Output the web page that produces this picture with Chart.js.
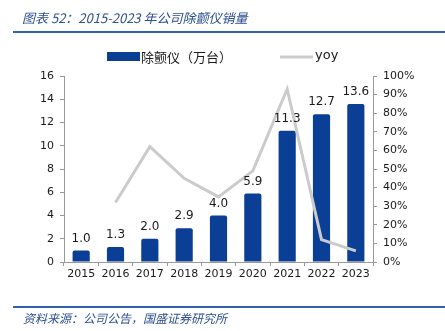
<!DOCTYPE html>
<html>
<head>
<meta charset="utf-8">
<script src="https://cdn.jsdelivr.net/npm/chart.js@4"></script>
<style>
  body { margin: 0; background: #fff; }
  .wrap { position: relative; width: 445px; height: 331px; }
  #chart { position: absolute; left: 0; top: 0; }
  .title {
    position: absolute; left: 22px; top: 8px;
    font: italic 13px "Noto Sans CJK SC", "DejaVu Sans", sans-serif;
    color: #2d4f93; white-space: nowrap;
  }
  .rule { position: absolute; left: 13px; width: 432px; height: 2px; background: #2f63ad; }
  .source {
    position: absolute; left: 23px; top: 309px;
    font: italic 12px "Noto Sans CJK SC", sans-serif;
    color: #2d4f93; white-space: nowrap;
  }
</style>
</head>
<body>
<div class="wrap">
  <canvas id="chart" width="445" height="331"></canvas>
  <div class="title">图表 52：2015-2023 年公司除颤仪销量</div>
  <div class="rule" style="top:31px"></div>
  <div class="rule" style="top:306px"></div>
  <div class="source">资料来源：公司公告，国盛证券研究所</div>
</div>
<script>
const years = ["2015", "2016", "2017", "2018", "2019", "2020", "2021", "2022", "2023"];
const sales = [1.0, 1.3, 2.0, 2.9, 4.0, 5.9, 11.3, 12.7, 13.6];
const yoy = [null, 0.32, 0.62, 0.45, 0.35, 0.49, 0.93, 0.12, 0.06];
const salesLabel = "除颤仪（万台）";
const yoyLabel = "yoy";

const tickFont = { family: "DejaVu Sans", size: 11 };
const barColor = "#0a3f95";
const lineColor = "#cbcbcb";

// value labels above the bars (bar dataset is index 1)
const barLabels = {
  id: "barLabels",
  afterDatasetsDraw(chart) {
    const ctx = chart.ctx;
    const meta = chart.getDatasetMeta(1);
    ctx.save();
    ctx.font = "12px DejaVu Sans";
    ctx.fillStyle = "#1a1a1a";
    ctx.textAlign = "center";
    ctx.textBaseline = "bottom";
    meta.data.forEach(function (bar, i) {
      ctx.fillText(sales[i].toFixed(1), bar.x, bar.y - 6);
    });
    ctx.restore();
  }
};

// legend drawn by hand so the spacing matches
const legendDraw = {
  id: "legendDraw",
  afterDraw(chart) {
    const ctx = chart.ctx;
    ctx.save();
    ctx.fillStyle = barColor;
    ctx.fillRect(107, 52, 33, 9);
    ctx.strokeStyle = lineColor;
    ctx.lineWidth = 3;
    ctx.beginPath();
    ctx.moveTo(280, 57);
    ctx.lineTo(313, 57);
    ctx.stroke();
    ctx.fillStyle = "#1a1a1a";
    ctx.textBaseline = "middle";
    ctx.font = "13px 'Noto Sans CJK SC'";
    ctx.fillText(salesLabel, 141, 57);
    ctx.font = "13px DejaVu Sans";
    ctx.fillText(yoyLabel, 315, 56);
    ctx.restore();
  }
};

new Chart(document.getElementById("chart"), {
  data: {
    labels: years,
    datasets: [
      {
        type: "line",
        label: yoyLabel,
        data: yoy,
        yAxisID: "y1",
        borderColor: lineColor,
        borderWidth: 3,
        pointRadius: 0,
        tension: 0,
        order: 0
      },
      {
        type: "bar",
        label: salesLabel,
        data: sales,
        yAxisID: "y",
        backgroundColor: barColor,
        borderRadius: 2,
        borderSkipped: "bottom",
        categoryPercentage: 1,
        barPercentage: 0.5,
        order: 1
      }
    ]
  },
  options: {
    responsive: false,
    animation: false,
    layout: { padding: { top: 76, bottom: 39, left: 0, right: 0 } },
    plugins: { legend: { display: false }, tooltip: { enabled: false } },
    scales: {
      x: {
        offset: true,
        grid: { offset: true, drawOnChartArea: false, tickLength: 4, color: "#999" },
        border: { color: "#999" },
        ticks: { font: tickFont, color: "#1a1a1a", padding: 2 },
        afterFit(scale) { scale.height = 30; }
      },
      y: {
        position: "left",
        min: 0,
        max: 16,
        grid: { drawOnChartArea: false, tickLength: 4, color: "#999" },
        border: { color: "#999" },
        ticks: { stepSize: 2, font: tickFont, color: "#1a1a1a", padding: 6 },
        afterFit(scale) { scale.width = 64; }
      },
      y1: {
        position: "right",
        min: 0,
        max: 1,
        grid: { drawOnChartArea: false, tickLength: 4, color: "#999" },
        border: { color: "#999" },
        ticks: {
          stepSize: 0.1,
          font: tickFont,
          color: "#1a1a1a",
          padding: 6,
          callback: function (v) { return Math.round(v * 100) + "%"; }
        },
        afterFit(scale) { scale.width = 72; }
      }
    }
  },
  plugins: [barLabels, legendDraw]
});
</script>
</body>
</html>
